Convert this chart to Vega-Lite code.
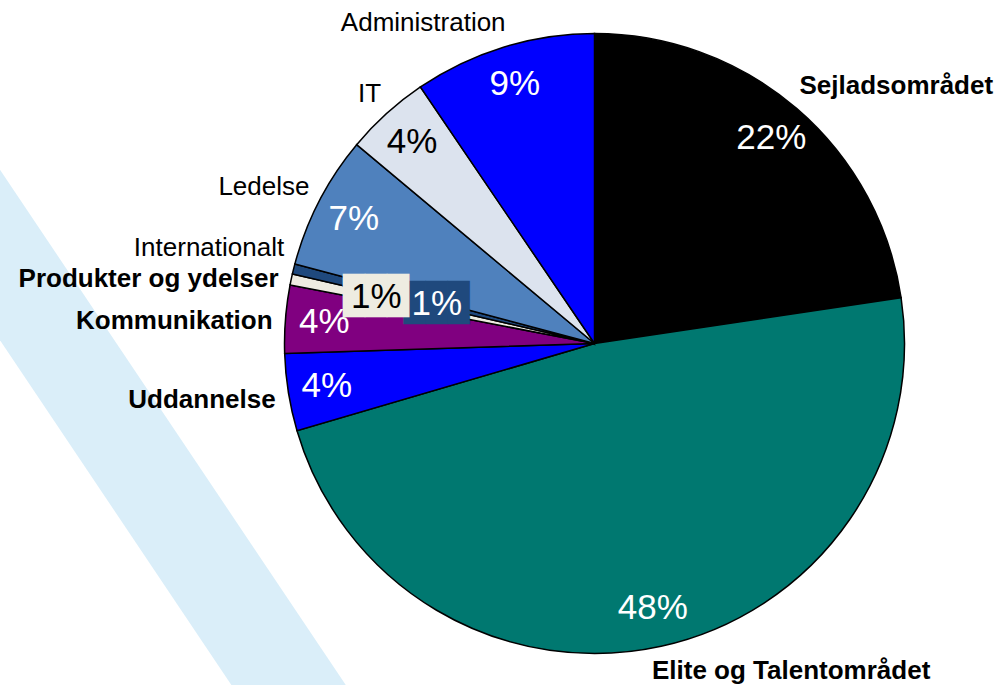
{
  "$schema": "https://vega.github.io/schema/vega-lite/v6.json",
  "width": 620,
  "height": 620,
  "autosize": {"type": "none"},
  "padding": {"left": 284.5, "top": 33.5, "right": 98.5, "bottom": 31.5},
  "background": "white",
  "config": {"view": {"stroke": null}},
  "data": {
    "values": [
      {"cat": "Sejladsområdet", "value": 22.64, "pct": "22%", "ord": 1},
      {"cat": "Elite og Talentområdet", "value": 47.83, "pct": "48%", "ord": 2},
      {"cat": "Uddannelse", "value": 4.03, "pct": "4%", "ord": 3},
      {"cat": "Kommunikation", "value": 3.53, "pct": "4%", "ord": 4},
      {"cat": "Produkter og ydelser", "value": 0.58, "pct": "1%", "ord": 5},
      {"cat": "Internationalt", "value": 0.53, "pct": "1%", "ord": 6},
      {"cat": "Ledelse", "value": 6.95, "pct": "7%", "ord": 7},
      {"cat": "IT", "value": 4.43, "pct": "4%", "ord": 8},
      {"cat": "Administration", "value": 9.49, "pct": "9%", "ord": 9}
    ]
  },
  "layer": [
    {
      "data": {"values": [{}]},
      "mark": {"type": "rule", "color": "#DAEEF9", "strokeWidth": 95, "strokeCap": "butt"},
      "encoding": {
        "x": {"datum": -404.5, "type": "quantitative", "scale": {"domain": [0, 620], "nice": false, "zero": false}, "axis": null},
        "y": {"datum": 42.7, "type": "quantitative", "scale": {"domain": [0, 620], "reverse": true, "nice": false, "zero": false}, "axis": null},
        "x2": {"datum": 165.5},
        "y2": {"datum": 892}
      }
    },
    {
      "mark": {"type": "arc", "outerRadius": 310, "stroke": "#000000", "strokeWidth": 1.5},
      "encoding": {
        "theta": {"field": "value", "type": "quantitative", "stack": true},
        "order": {"field": "ord", "type": "quantitative"},
        "color": {
          "field": "cat", "type": "nominal", "legend": null,
          "scale": {
            "domain": ["Sejladsområdet", "Elite og Talentområdet", "Uddannelse", "Kommunikation", "Produkter og ydelser", "Internationalt", "Ledelse", "IT", "Administration"],
            "range": ["#000000", "#007870", "#0000FF", "#800080", "#EEECE1", "#1F497D", "#4F81BD", "#DCE3EE", "#0000FF"]
          }
        }
      }
    },
    {
      "mark": {"type": "text", "radius": 271, "fontSize": 35, "font": "Liberation Sans", "color": "#ffffff"},
      "encoding": {
        "theta": {"field": "value", "type": "quantitative", "stack": true},
        "order": {"field": "ord", "type": "quantitative"},
        "detail": {"field": "cat", "type": "nominal"},
        "text": {"condition": {"test": "indexof(['IT','Produkter og ydelser','Internationalt'], datum.cat) < 0", "field": "pct", "type": "nominal"}, "value": ""}
      }
    },
    {
      "mark": {"type": "text", "radius": 272, "fontSize": 35, "font": "Liberation Sans", "color": "#000000"},
      "encoding": {
        "theta": {"field": "value", "type": "quantitative", "stack": true},
        "order": {"field": "ord", "type": "quantitative"},
        "detail": {"field": "cat", "type": "nominal"},
        "text": {"condition": {"test": "datum.cat === 'IT'", "field": "pct", "type": "nominal"}, "value": ""}
      }
    },
    {
      "mark": {"type": "text", "radius": 162.5, "fontSize": 36.5, "font": "DejaVu Sans Mono", "color": "#1F497D"},
      "encoding": {
        "theta": {"field": "value", "type": "quantitative", "stack": true},
        "order": {"field": "ord", "type": "quantitative"},
        "detail": {"field": "cat", "type": "nominal"},
        "text": {"condition": {"test": "datum.cat === 'Internationalt'", "value": "███"}, "value": ""}
      }
    },
    {
      "mark": {"type": "text", "radius": 162.5, "fontSize": 35, "font": "Liberation Sans", "color": "#ffffff"},
      "encoding": {
        "theta": {"field": "value", "type": "quantitative", "stack": true},
        "order": {"field": "ord", "type": "quantitative"},
        "detail": {"field": "cat", "type": "nominal"},
        "text": {"condition": {"test": "datum.cat === 'Internationalt'", "field": "pct", "type": "nominal"}, "value": ""}
      }
    },
    {
      "mark": {"type": "text", "radius": 223, "fontSize": 36.5, "font": "DejaVu Sans Mono", "color": "#EEECE1"},
      "encoding": {
        "theta": {"field": "value", "type": "quantitative", "stack": true},
        "order": {"field": "ord", "type": "quantitative"},
        "detail": {"field": "cat", "type": "nominal"},
        "text": {"condition": {"test": "datum.cat === 'Produkter og ydelser'", "value": "███"}, "value": ""}
      }
    },
    {
      "mark": {"type": "text", "radius": 223, "fontSize": 35, "font": "Liberation Sans", "color": "#000000"},
      "encoding": {
        "theta": {"field": "value", "type": "quantitative", "stack": true},
        "order": {"field": "ord", "type": "quantitative"},
        "detail": {"field": "cat", "type": "nominal"},
        "text": {"condition": {"test": "datum.cat === 'Produkter og ydelser'", "field": "pct", "type": "nominal"}, "value": ""}
      }
    },
    {
      "mark": {"type": "text", "radius": 337, "dx": -15, "dy": -2, "align": "left", "fontSize": 26, "fontWeight": "bold", "font": "Liberation Sans", "color": "#000000"},
      "encoding": {
        "theta": {"field": "value", "type": "quantitative", "stack": true},
        "order": {"field": "ord", "type": "quantitative"},
        "detail": {"field": "cat", "type": "nominal"},
        "text": {"condition": {"test": "indexof(['Sejladsområdet','Elite og Talentområdet'], datum.cat) >= 0", "field": "cat", "type": "nominal"}, "value": ""}
      }
    },
    {
      "mark": {"type": "text", "radius": 330, "dx": 7, "dy": 4, "align": "right", "fontSize": 26, "fontWeight": "bold", "font": "Liberation Sans", "color": "#000000"},
      "encoding": {
        "theta": {"field": "value", "type": "quantitative", "stack": true},
        "order": {"field": "ord", "type": "quantitative"},
        "detail": {"field": "cat", "type": "nominal"},
        "text": {"condition": {"test": "indexof(['Uddannelse','Kommunikation','Produkter og ydelser'], datum.cat) >= 0", "field": "cat", "type": "nominal"}, "value": ""}
      }
    },
    {
      "mark": {"type": "text", "radius": 330, "dx": 8, "dy": -5, "align": "right", "fontSize": 26, "font": "Liberation Sans", "color": "#000000"},
      "encoding": {
        "theta": {"field": "value", "type": "quantitative", "stack": true},
        "order": {"field": "ord", "type": "quantitative"},
        "detail": {"field": "cat", "type": "nominal"},
        "text": {"condition": {"test": "indexof(['Ledelse','IT','Administration'], datum.cat) >= 0", "field": "cat", "type": "nominal"}, "value": ""}
      }
    },
    {
      "mark": {"type": "text", "radius": 330, "dx": 10, "dy": -16, "align": "right", "fontSize": 26, "font": "Liberation Sans", "color": "#000000"},
      "encoding": {
        "theta": {"field": "value", "type": "quantitative", "stack": true},
        "order": {"field": "ord", "type": "quantitative"},
        "detail": {"field": "cat", "type": "nominal"},
        "text": {"condition": {"test": "datum.cat === 'Internationalt'", "field": "cat", "type": "nominal"}, "value": ""}
      }
    }
  ]
}
